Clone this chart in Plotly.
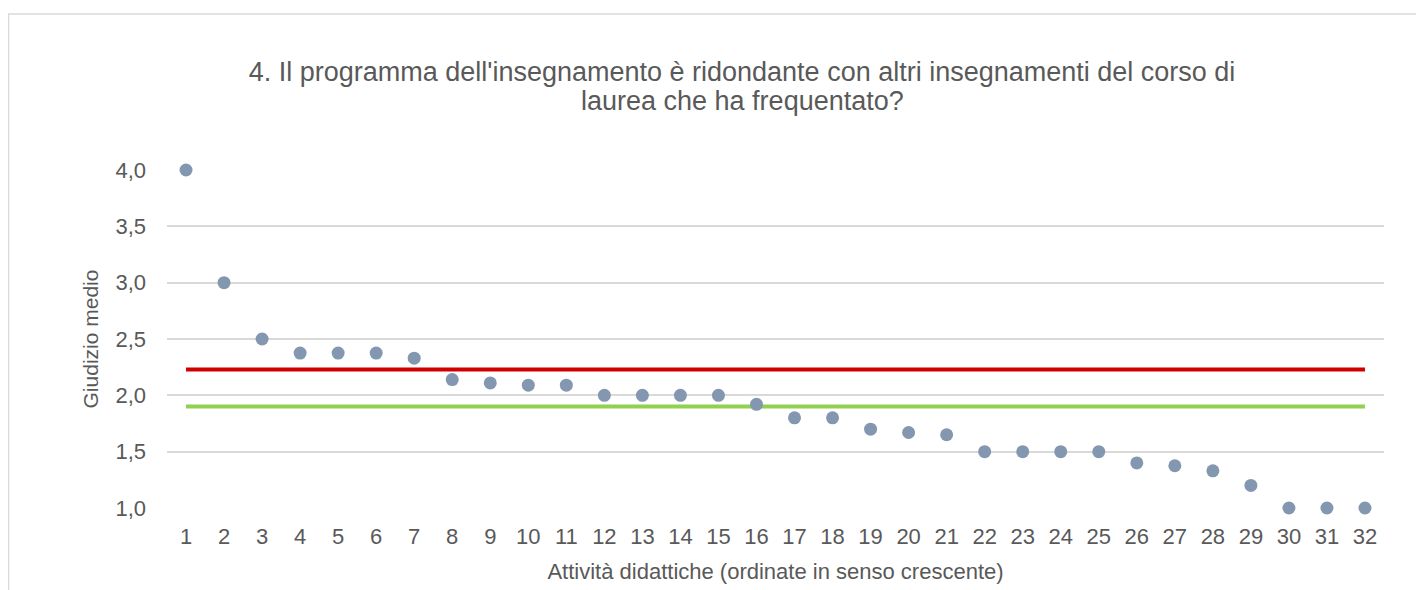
import plotly.graph_objects as go

activities = list(range(1, 33))
giudizio = [4.0, 3.0, 2.5, 2.375, 2.375, 2.375, 2.33, 2.14, 2.11, 2.09, 2.09,
            2.0, 2.0, 2.0, 2.0, 1.92, 1.8, 1.8, 1.7, 1.67, 1.65,
            1.5, 1.5, 1.5, 1.5, 1.4, 1.375, 1.33, 1.2, 1.0, 1.0, 1.0]
red_level = 2.23
green_level = 1.90
y_ticks = [1.0, 1.5, 2.0, 2.5, 3.0, 3.5, 4.0]
y_tick_labels = ["1,0", "1,5", "2,0", "2,5", "3,0", "3,5", "4,0"]
title_line1 = "4. Il programma dell'insegnamento è ridondante con altri insegnamenti del corso di"
title_line2 = "laurea che ha frequentato?"

txt = "#595959"
font = "Liberation Sans, Arial, sans-serif"

# page body has an 8px margin: figure coordinates = viewport - 8
W, H = 1416, 582
L, R, T, B = 159, 40, 162, 82
PW = W - L - R
PH = H - T - B

fig = go.Figure()
fig.add_trace(go.Scatter(x=[activities[0], activities[-1]], y=[red_level, red_level],
                         mode="lines", line=dict(color="#D00000", width=4),
                         showlegend=False, hoverinfo="skip"))
fig.add_trace(go.Scatter(x=[activities[0], activities[-1]], y=[green_level, green_level],
                         mode="lines", line=dict(color="#92D050", width=4),
                         showlegend=False, hoverinfo="skip"))
fig.add_trace(go.Scatter(x=activities, y=giudizio, mode="markers",
                         marker=dict(color="#8497B0", size=13),
                         showlegend=False, cliponaxis=False))

fig.update_layout(
    width=W, height=H,
    margin=dict(l=L, r=R, t=T, b=B),
    paper_bgcolor="white", plot_bgcolor="white",
    font=dict(family=font, color=txt, size=21),
    title=dict(text=title_line1,
               x=734 / W, xanchor="center", xref="container",
               y=1 - 64 / H, yanchor="middle", yref="container",
               font=dict(size=27, color=txt, family=font)),
    annotations=[dict(text=title_line2, xref="paper", yref="paper",
                      x=(734 - L) / PW, y=(T + PH - 93) / PH,
                      xanchor="center", yanchor="middle", showarrow=False,
                      font=dict(size=27, color=txt, family=font))],
    xaxis=dict(range=[0.5, 32.5], tickmode="array", tickvals=activities,
               ticktext=[str(a) for a in activities], showgrid=False,
               zeroline=False, showline=False, ticks="", ticklabelstandoff=13,
               tickfont=dict(size=22, color=txt),
               title=dict(text="Attività didattiche (ordinate in senso crescente)",
                          font=dict(size=22, color=txt), standoff=15)),
    yaxis=dict(range=[1.0, 4.0], tickmode="array", tickvals=y_ticks,
               ticktext=y_tick_labels, showgrid=True, gridcolor="#D9D9D9",
               gridwidth=2, zeroline=False, showline=False, ticks="",
               ticklabelstandoff=20, tickfont=dict(size=22, color=txt),
               title=dict(text="Giudizio medio", font=dict(size=21, color=txt),
                          standoff=11)),
    shapes=[dict(type="rect", xref="paper", yref="paper",
                 x0=(0.5 - L) / PW, x1=(W + 20 - L) / PW,
                 y0=-0.5, y1=(T + PH - 6) / PH,
                 line=dict(color="#D9D9D9", width=1.5), fillcolor="rgba(0,0,0,0)",
                 layer="below")],
)

fig.write_html("out.html")
